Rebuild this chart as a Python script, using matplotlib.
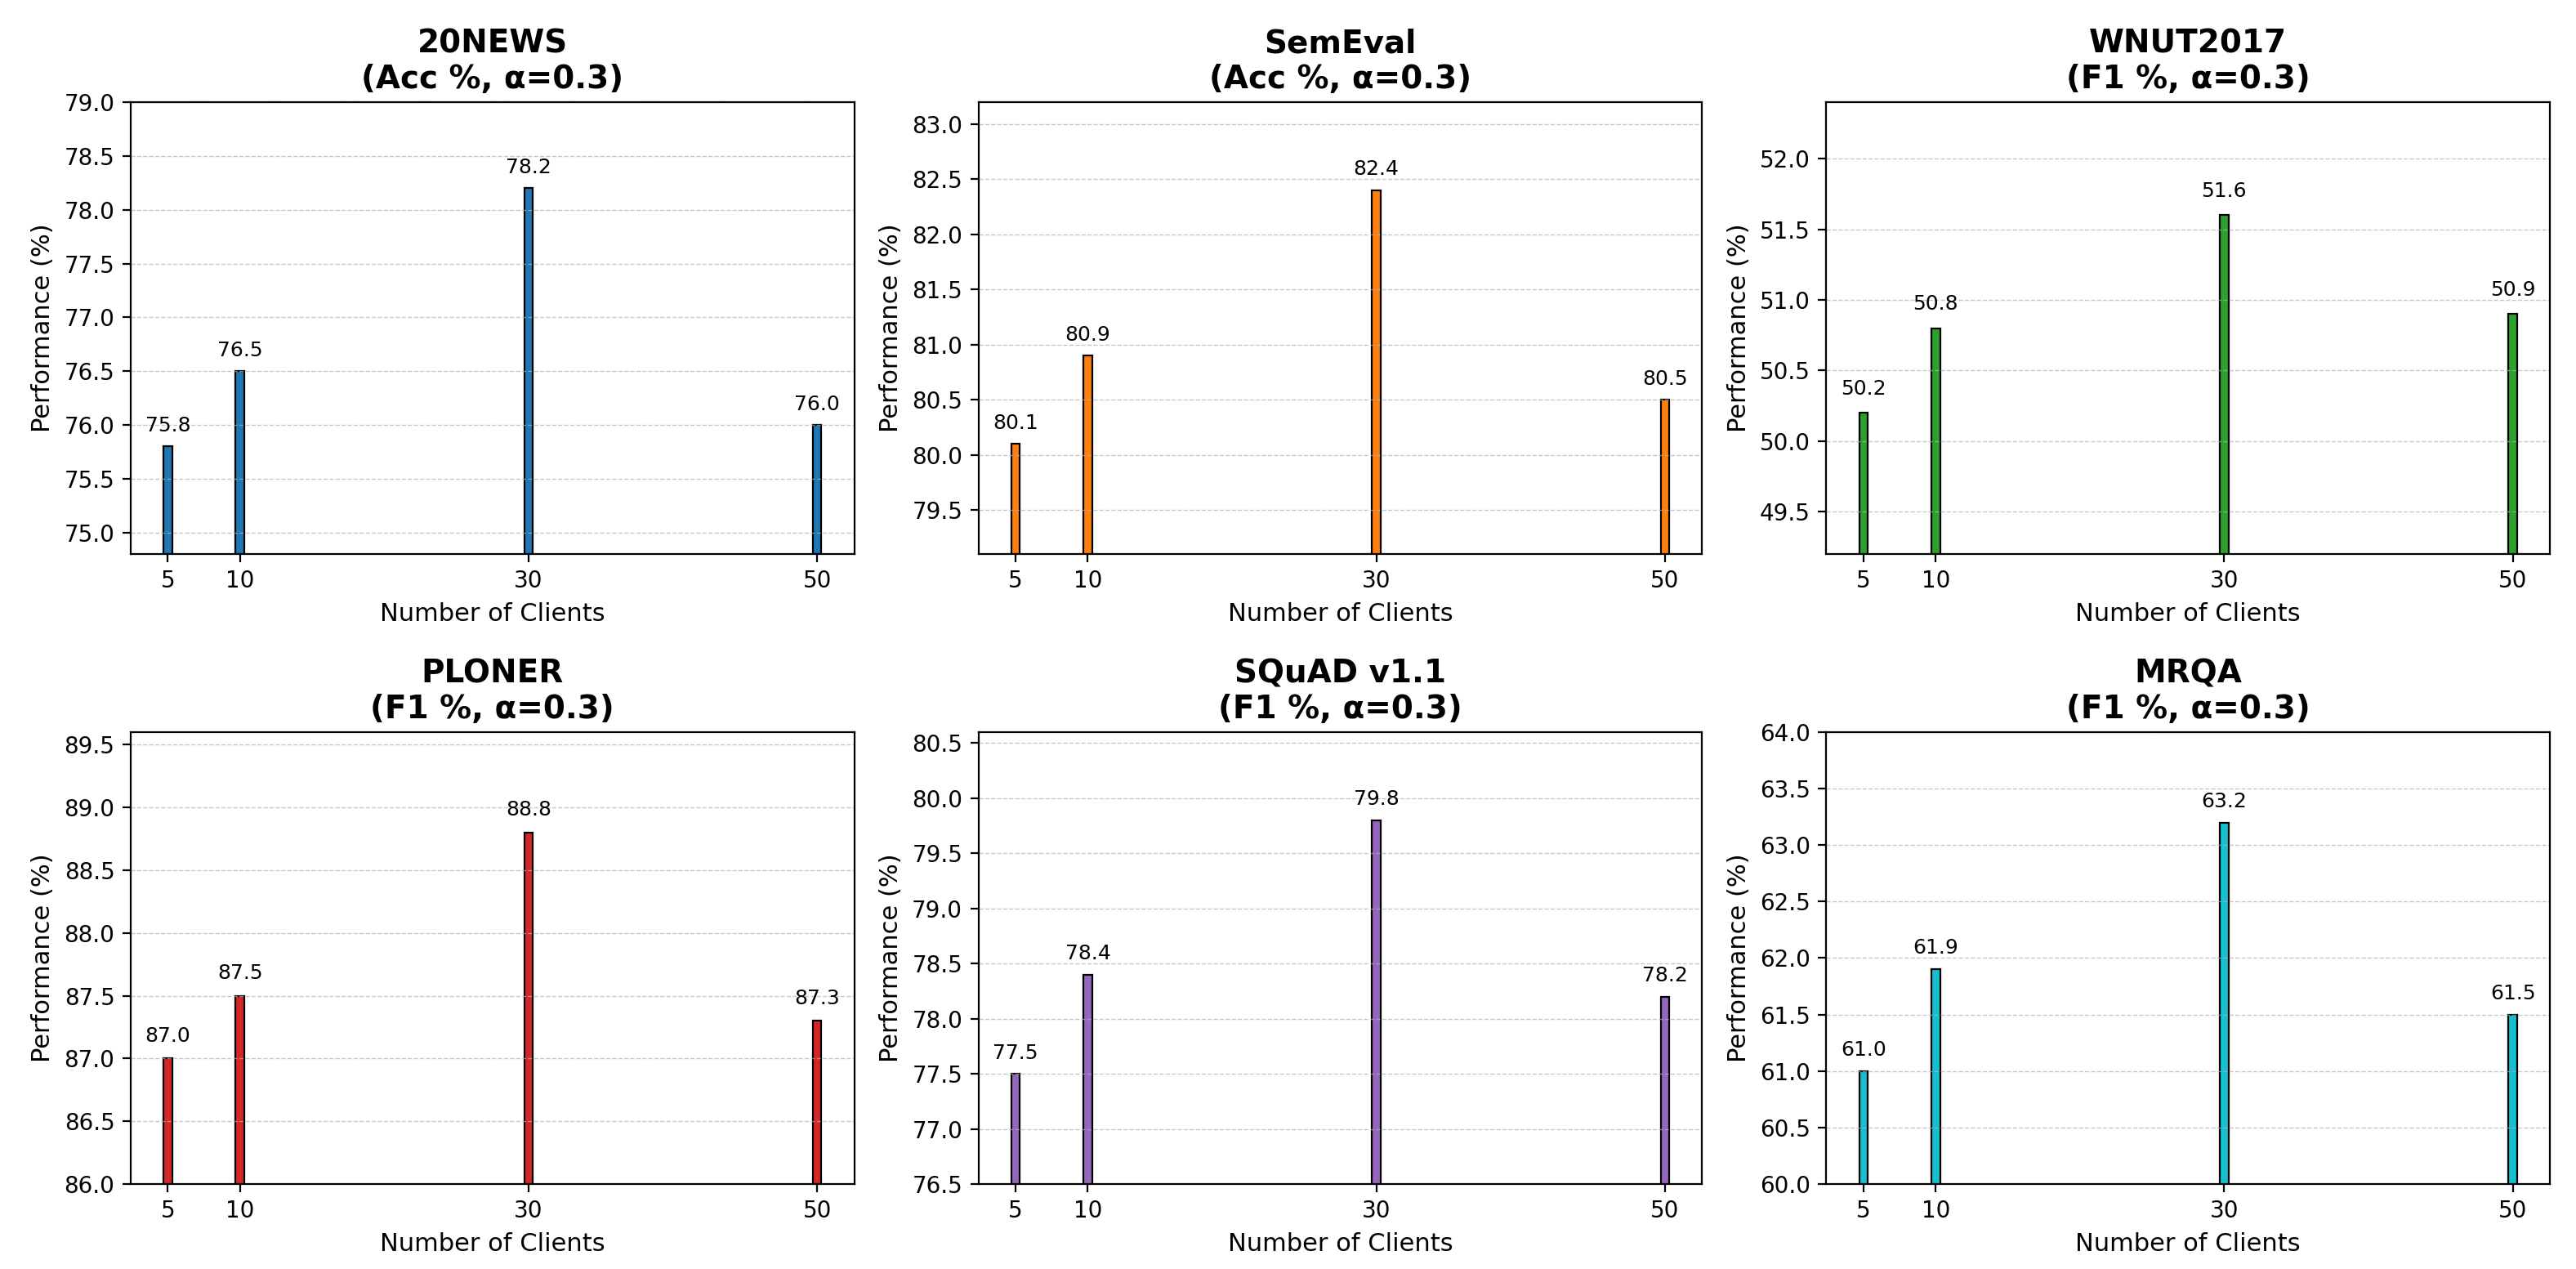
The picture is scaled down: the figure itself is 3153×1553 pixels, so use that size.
import numpy as np
import matplotlib
matplotlib.use('Agg')
import matplotlib.pyplot as plt

# number of clients on the x axis
clients = [5, 10, 30, 50]

datasets = ['20NEWS', 'SemEval', 'WNUT2017', 'PLONER', 'SQuAD v1.1', 'MRQA']
metrics = ['Acc', 'Acc', 'F1', 'F1', 'F1', 'F1']
alpha_val = 0.3

news20 = [75.8, 76.5, 78.2, 76.0]
semeval = [80.1, 80.9, 82.4, 80.5]
wnut2017 = [50.2, 50.8, 51.6, 50.9]
ploner = [87.0, 87.5, 88.8, 87.3]
squad = [77.5, 78.4, 79.8, 78.2]
mrqa = [61.0, 61.9, 63.2, 61.5]

results = [news20, semeval, wnut2017, ploner, squad, mrqa]
colors = ['#1f77b4', '#ff7f0e', '#2ca02c', '#d62728', '#9467bd', '#17becf']

fig, axes = plt.subplots(2, 3, figsize=(3153 / 200, 1553 / 200), dpi=200)
axes = axes.flatten()

for i, ax in enumerate(axes):
    vals = results[i]
    ax.bar(clients, vals, width=0.6, color=colors[i], edgecolor='black',
           linewidth=0.8)
    for x, v in zip(clients, vals):
        ax.text(x, v + 0.1, '{:.1f}'.format(v), ha='center', va='bottom',
                fontsize=9)

    ax.set_title('{}\n({} %, \u03b1={})'.format(datasets[i], metrics[i], alpha_val),
                 fontsize=14, fontweight='bold')
    ax.set_xlabel('Number of Clients', fontsize=11)
    ax.set_ylabel('Performance (%)', fontsize=11)
    ax.set_xticks(clients)
    ax.tick_params(axis='both', labelsize=10)
    # zoom y range around the values
    ax.set_ylim(min(vals) - 1.0, max(vals) + 0.8)
    ax.grid(axis='y', linestyle='--', linewidth=0.5, alpha=0.7)

plt.subplots_adjust(left=0.0507, right=0.9899, top=0.9195, bottom=0.067,
                    wspace=0.1716, hspace=0.394)
plt.savefig('out.png', dpi=200)
